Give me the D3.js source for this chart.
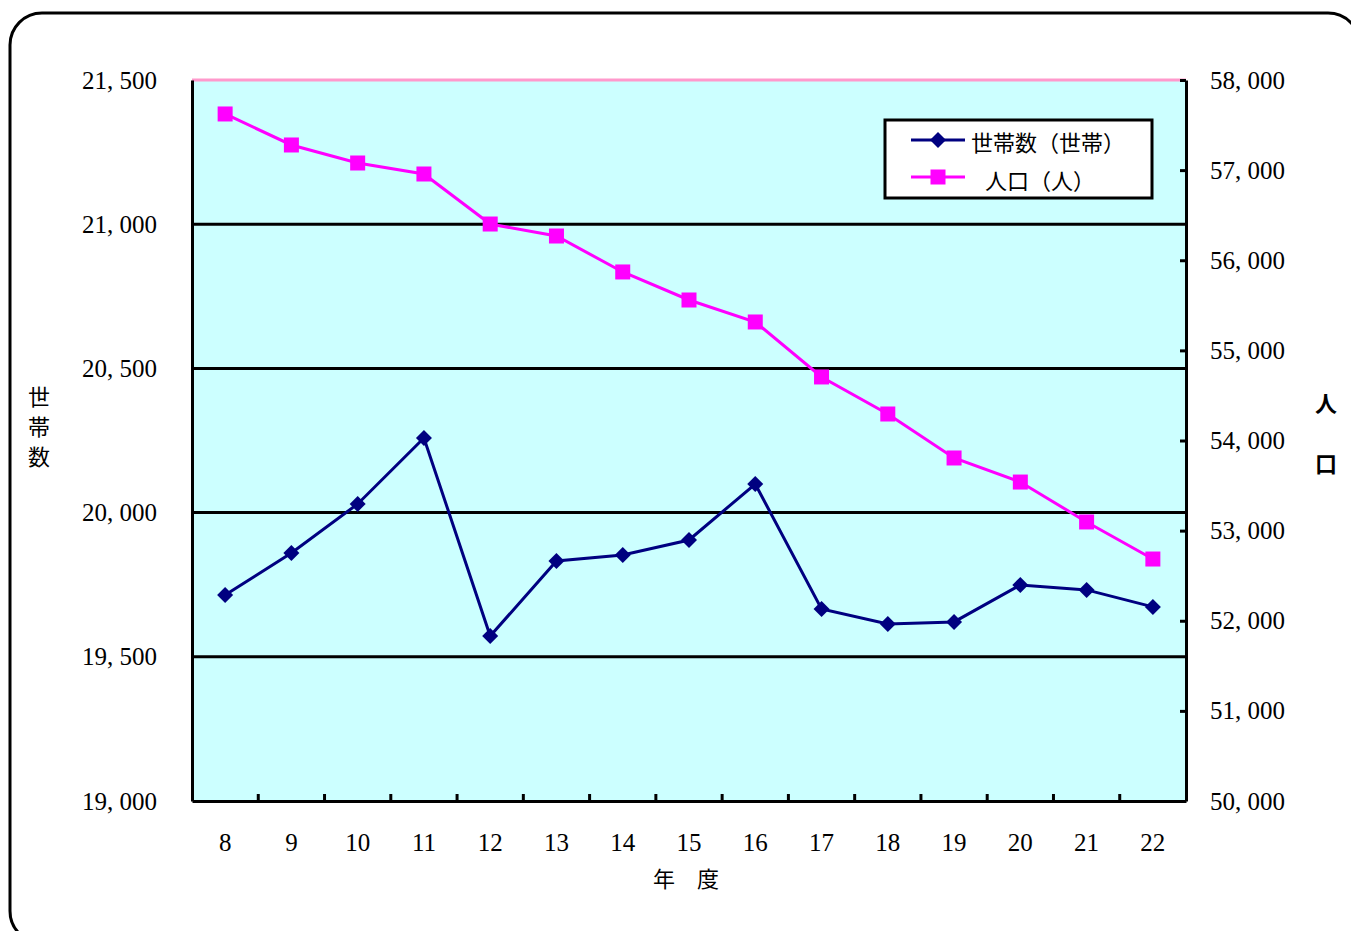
<!DOCTYPE html>
<html><head><meta charset="utf-8">
<script src="https://cdn.jsdelivr.net/npm/d3@7"></script>
<style>body{margin:0;background:#fff}svg{display:block}</style>
</head><body>
<svg id="c" width="1351" height="931"></svg>
<script>
const years = ["8","9","10","11","12","13","14","15","16","17","18","19","20","21","22"];
const households = [19714,19860,20030,20259,19572,19832,19853,19905,20099,19666,19614,19621,19749,19732,19673];
const population = [57623,57279,57079,56957,56402,56269,55870,55559,55315,54705,54294,53806,53539,53096,52685];
const leftTicks = [19000,19500,20000,20500,21000,21500];
const rightTicks = [50000,51000,52000,53000,54000,55000,56000,57000,58000];
const seriesNames = ["世帯数（世帯）","人口（人）"];

const svg = d3.select("#c");
const L=192,R=1186,T=80,B=801;
const serif = "'Liberation Serif','DejaVu Serif',serif";
const cjk = "'Noto Sans CJK JP',sans-serif";
const fmt = v => d3.format(",")(v).replace(",", ", ");

svg.append("rect").attr("x",10).attr("y",13).attr("width",1350).attr("height",930).attr("rx",32)
  .attr("fill","#fff").attr("stroke","#000").attr("stroke-width",3);

const x = d3.scaleBand().domain(years).range([L,R]);
const yL = d3.scaleLinear().domain([19000,21500]).range([B,T]);
const yR = d3.scaleLinear().domain([50000,58000]).range([B,T]);

svg.append("rect").attr("x",L).attr("y",T).attr("width",R-L).attr("height",B-T).attr("fill","#ccffff");

// gridlines
svg.append("g").selectAll("line").data(leftTicks.filter(d=>d>19000&&d<21500)).join("line")
  .attr("x1",L).attr("x2",R).attr("y1",d=>yL(d)).attr("y2",d=>yL(d)).attr("stroke","#000").attr("stroke-width",3);
// top pink border
svg.append("line").attr("x1",L).attr("x2",R).attr("y1",T).attr("y2",T).attr("stroke","#ff99cc").attr("stroke-width",3);

const FS = 25;
// left axis
const gL = svg.append("g").attr("transform",`translate(${L},0)`)
  .call(d3.axisLeft(yL).tickValues(leftTicks).tickSize(0).tickPadding(35).tickFormat(fmt));
gL.select(".domain").attr("stroke","#000").attr("stroke-width",3);
gL.selectAll("text").attr("font-family",serif).attr("font-size",FS).attr("fill","#000");

// right axis
const gR = svg.append("g").attr("transform",`translate(${R},0)`)
  .call(d3.axisRight(yR).tickValues(rightTicks).tickSizeInner(-6).tickSizeOuter(0).tickPadding(24).tickFormat(fmt));
gR.select(".domain").attr("stroke","#000").attr("stroke-width",3);
gR.selectAll("line").attr("stroke","#000").attr("stroke-width",3);
gR.selectAll("text").attr("font-family",serif).attr("font-size",FS).attr("fill","#000");

// bottom axis
const gB = svg.append("g").attr("transform",`translate(0,${B})`)
  .call(d3.axisBottom(x).tickSize(0).tickPadding(32));
gB.select(".domain").attr("stroke","#000").attr("stroke-width",3);
gB.selectAll("text").attr("font-family",serif).attr("font-size",FS).attr("fill","#000");
gB.append("g").selectAll("line").data(years.slice(1)).join("line")
  .attr("x1",d=>x(d)).attr("x2",d=>x(d)).attr("y1",0).attr("y2",-7).attr("stroke","#000").attr("stroke-width",3);

// axis titles
svg.append("text").attr("x",686).attr("y",887).attr("text-anchor","middle").attr("font-family",cjk).attr("font-size",22).text("年　度");
["世","帯","数"].forEach((c,i)=>svg.append("text").attr("x",39).attr("y",405+i*30).attr("text-anchor","middle").attr("font-family",cjk).attr("font-size",22).text(c));
["人","口"].forEach((c,i)=>svg.append("text").attr("x",1326).attr("y",412+i*60).attr("text-anchor","middle").attr("font-family",cjk).attr("font-size",22).attr("font-weight","bold").text(c));

const cx = d => x(d)+x.bandwidth()/2;
// population
svg.append("path").datum(population).attr("fill","none").attr("stroke","#ff00ff").attr("stroke-width",3)
  .attr("d",d3.line().x((d,i)=>cx(years[i])).y(d=>yR(d)));
svg.append("g").selectAll("rect").data(population).join("rect")
  .attr("x",(d,i)=>cx(years[i])-7.5).attr("y",d=>yR(d)-7.5).attr("width",15).attr("height",15).attr("fill","#ff00ff");
// households
svg.append("path").datum(households).attr("fill","none").attr("stroke","#000080").attr("stroke-width",3)
  .attr("d",d3.line().x((d,i)=>cx(years[i])).y(d=>yL(d)));
svg.append("g").selectAll("path").data(households).join("path")
  .attr("transform",(d,i)=>`translate(${cx(years[i])},${yL(d)})`)
  .attr("d","M0,-8L8,0L0,8L-8,0Z").attr("fill","#000080");

// legend
const lg = svg.append("g");
lg.append("rect").attr("x",885).attr("y",120).attr("width",267).attr("height",78).attr("fill","#fff").attr("stroke","#000").attr("stroke-width",3);
lg.append("line").attr("x1",911).attr("x2",965).attr("y1",140).attr("y2",140).attr("stroke","#000080").attr("stroke-width",3);
lg.append("path").attr("transform","translate(938,140)").attr("d","M0,-8L8,0L0,8L-8,0Z").attr("fill","#000080");
lg.append("text").attr("x",971).attr("y",151).attr("font-family",cjk).attr("font-size",22).text(seriesNames[0]);
lg.append("line").attr("x1",911).attr("x2",965).attr("y1",177).attr("y2",177).attr("stroke","#ff00ff").attr("stroke-width",3);
lg.append("rect").attr("x",930.5).attr("y",169.5).attr("width",15).attr("height",15).attr("fill","#ff00ff");
lg.append("text").attr("x",985).attr("y",189).attr("font-family",cjk).attr("font-size",22).text(seriesNames[1]);
</script>
</body></html>
